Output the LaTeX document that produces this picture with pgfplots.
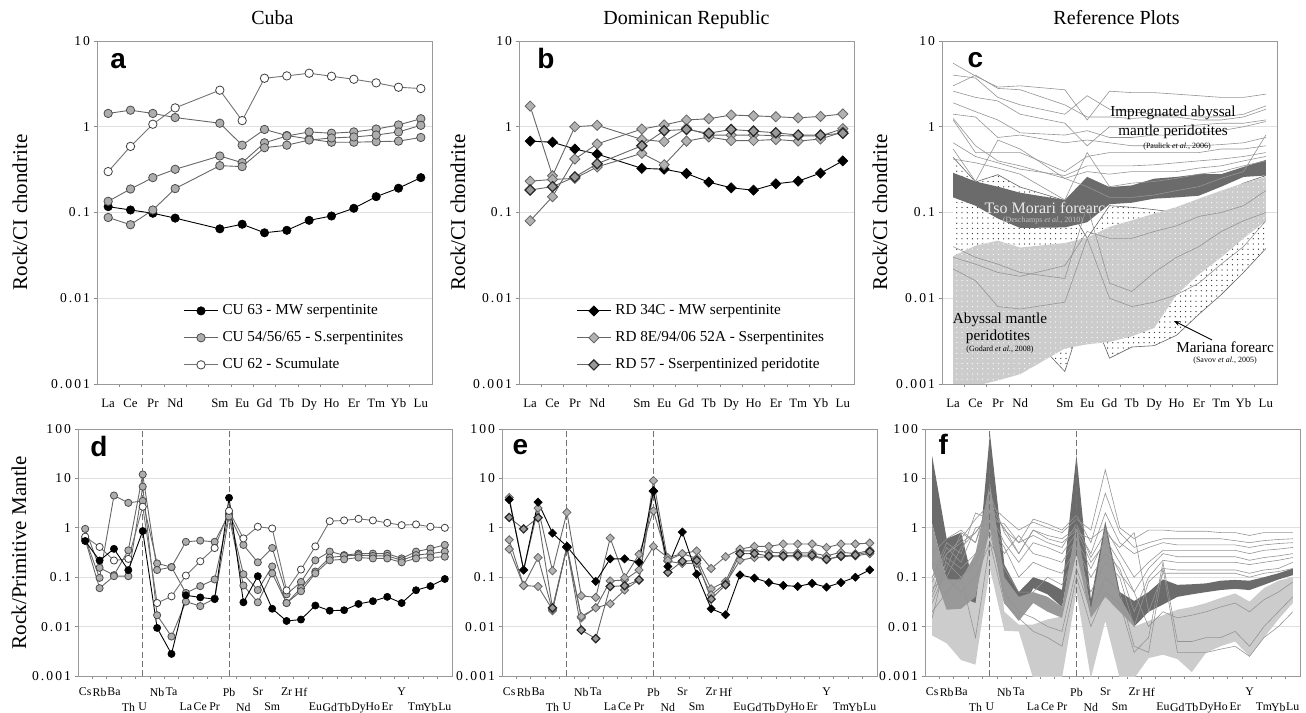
\documentclass[border=0pt]{standalone}
\usepackage{fontspec}
\setmainfont{Liberation Serif}
\setsansfont{Liberation Sans}
\newfontfamily\tickfont{Liberation Serif}[LetterSpace=15]
\usepackage{pgfplots}
\usepackage{pgfplotstable}
\pgfplotsset{compat=1.18}
\usetikzlibrary{patterns,arrows.meta}

\pgfdeclarepatternformonly{smalldots}{\pgfqpoint{-0.5pt}{-0.5pt}}{\pgfqpoint{0.5pt}{0.5pt}}{\pgfqpoint{2.6pt}{2.6pt}}{\pgfpathcircle{\pgfqpoint{0pt}{0pt}}{0.32pt}\pgfusepath{fill}}

% ---------------- data ----------------
\pgfplotstableread{
x cu63 g1 g2 g3 cu62
1 0.117 1.43 0.135 0.0875 0.30
2 0.107 1.56 0.188 0.072 0.59
3 0.098 1.43 0.255 0.107 1.07
4 0.086 1.28 0.319 0.19 1.66
6 0.0645 1.10 0.456 0.352 2.67
7 0.073 0.61 0.381 0.343 1.18
8 0.058 0.93 0.65 0.57 3.68
9 0.062 0.79 0.78 0.61 3.92
10 0.081 0.72 0.87 0.70 4.21
11 0.091 0.66 0.84 0.74 3.88
12 0.112 0.66 0.87 0.76 3.58
13 0.153 0.67 0.94 0.80 3.25
14 0.192 0.68 1.05 0.87 2.89
15 0.255 0.75 1.24 1.04 2.79
}\tabA

\pgfplotstableread{
x blk g1 g2 g3 r57
1 0.68 1.74 0.08 0.232 0.183
2 0.66 0.268 0.153 0.243 0.20
3 0.55 1.0 0.42 0.25 0.26
4 0.48 1.04 0.63 0.34 0.37
6 0.327 0.71 0.94 0.49 0.60
7 0.32 0.67 1.05 0.36 0.90
8 0.285 0.96 1.2 0.68 0.93
9 0.226 0.80 1.24 0.76 0.84
10 0.194 0.80 1.37 0.69 0.93
11 0.182 0.80 1.34 0.69 0.89
12 0.216 0.79 1.31 0.71 0.85
13 0.232 0.78 1.27 0.68 0.80
14 0.288 0.78 1.32 0.72 0.80
15 0.40 0.95 1.41 0.87 0.84
}\tabB

% panel c: Mariana forearc boundaries
\pgfplotstableread{
x mrUp mrLo
1 0.44 0.0093
2 0.227 0.016
3 0.276 0.008
4 0.198 0.005
6 0.138 0.0014
7 0.05 0.009
8 0.12 0.002
9 0.115 0.0027
10 0.108 0.0028
11 0.10 0.0037
12 0.12 0.0065
13 0.16 0.011
14 0.22 0.02
15 0.27 0.038
}\tabC

% panel c polygons (upper edge left to right, then lower edge right to left)
\pgfplotstableread{
x y
1 0.44
2 0.227
3 0.276
4 0.198
6 0.138
7 0.05
8 0.12
9 0.115
10 0.108
11 0.10
12 0.12
13 0.16
14 0.22
15 0.27
15 0.038
14 0.02
13 0.011
12 0.0065
11 0.0037
10 0.0028
9 0.0027
8 0.002
7 0.009
6 0.0014
4 0.005
3 0.008
2 0.016
1 0.0093
}\polyCmr

\pgfplotstableread{
x y
1 0.031
2 0.041
3 0.047
4 0.039
6 0.044
7 0.051
8 0.068
9 0.081
10 0.097
11 0.116
12 0.145
13 0.18
14 0.22
15 0.26
15 0.08
14 0.05
13 0.03
12 0.019
11 0.011
10 0.0045
9 0.0036
8 0.0031
7 0.0029
6 0.0026
4 0.0013
3 0.0011
2 0.00095
1 0.00095
}\polyClg

\pgfplotstableread{
x y
1 0.29
2 0.23
3 0.2
4 0.17
6 0.14
7 0.26
8 0.198
9 0.207
10 0.248
11 0.26
12 0.28
13 0.28
14 0.34
15 0.41
15 0.27
14 0.26
13 0.2
12 0.157
11 0.15
10 0.145
9 0.13
8 0.125
7 0.077
6 0.067
4 0.066
3 0.085
2 0.12
1 0.15
}\polyCdk

\pgfplotstableread{
x c1 c2 c3 c4 c5 c6 c7 c8 c9 c10 c11 c12 c13 c14
1 5.5 4.0 3.0 2.6 1.9 1.4 1.2 0.65 0.55 0.42 1.25 0.022 0.04 0.03
2 3.9 3.7 4.0 2.2 1.5 1.3 0.5 0.45 0.23 0.38 0.6 0.016 0.03 0.025
3 2.9 2.2 2.8 2.0 1.2 0.75 0.5 0.38 0.7 0.33 0.4 0.008 0.025 0.02
4 3.0 1.8 2.7 1.4 0.85 0.8 0.5 0.32 0.55 0.28 0.35 0.0075 0.02 0.018
6 2.7 1.4 1.8 1.1 0.8 0.65 0.3 0.27 0.25 0.14 0.25 0.009 0.017 0.024
7 1.2 2.3 1.3 0.6 0.9 0.7 0.45 0.35 0.3 0.5 0.2 0.05 0.12 0.06
8 2.6 1.6 1.3 1.0 0.75 0.65 0.5 0.35 0.28 0.2 0.15 0.01 0.015 0.05
9 2.5 1.5 1.25 1.0 0.75 0.6 0.5 0.35 0.3 0.22 0.15 0.008 0.012 0.05
10 2.5 1.4 1.3 1.0 0.8 0.6 0.5 0.36 0.3 0.23 0.16 0.009 0.02 0.06
11 2.4 1.4 1.3 1.0 0.8 0.6 0.5 0.38 0.3 0.25 0.18 0.011 0.03 0.07
12 2.3 1.3 1.2 1.05 0.85 0.6 0.5 0.4 0.33 0.28 0.2 0.015 0.04 0.09
13 2.2 1.3 1.2 1.1 0.9 0.62 0.55 0.42 0.35 0.3 0.25 0.025 0.06 0.1
14 2.2 1.4 1.3 1.1 1.0 0.65 0.55 0.45 0.4 0.35 0.3 0.04 0.08 0.12
15 2.4 1.75 1.6 1.2 1.15 0.75 0.6 0.5 0.45 0.4 0.8 0.08 0.1 0.18
}\tabCl

\pgfplotstableread{
x blk wht g1 g2 g3
1 0.54 0.66 0.6 0.95 0.58
2 0.218 0.41 0.097 0.155 0.06
3 0.375 0.218 4.5 0.11 0.105
4 0.139 0.235 3.2 0.35 0.105
5 0.86 2.67 3.5 12 6.8
6 0.0094 0.030 0.19 0.14 0.017
7 0.0028 0.041 0.16 0.16 0.0063
8 0.043 0.108 0.52 0.048 0.032
9 0.039 0.21 0.55 0.066 0.026
10 0.036 0.39 0.52 0.09 0.037
11 4.05 2.2 1.9 1.9 1.7
12 0.031 0.61 0.45 0.115 0.068
13 0.105 1.05 0.2 0.055 0.031
14 0.023 0.97 0.39 0.165 0.12
15 0.013 0.054 0.045 0.03 0.03
16 0.0139 0.143 0.08 0.06 0.052
17 0.0267 0.42 0.22 0.13 0.12
18 0.021 1.36 0.33 0.25 0.22
19 0.0215 1.41 0.28 0.27 0.23
20 0.0288 1.52 0.3 0.28 0.25
21 0.0327 1.41 0.3 0.27 0.24
22 0.040 1.26 0.3 0.27 0.24
23 0.030 1.13 0.24 0.22 0.2
24 0.0545 1.17 0.33 0.28 0.24
25 0.066 1.05 0.38 0.3 0.25
26 0.092 1.0 0.45 0.33 0.26
}\tabD

\pgfplotstableread{
x gA gB gC gD
1 4.1 1.62 0.57 0.37
2 0.14 0.95 0.068 0.068
3 2.5 1.6 0.25 0.065
4 0.135 0.024 0.021 0.022
5 2.05 0.4 0.4 0.42
6 0.042 0.0085 0.015 0.016
7 0.039 0.0057 0.024 0.024
8 0.62 0.065 0.084 0.029
9 0.098 0.067 0.088 0.055
10 0.29 0.088 0.14 0.088
11 2.2 5.5 0.42 9
12 0.22 0.125 0.25 0.21
13 0.3 0.21 0.3 0.19
14 0.34 0.22 0.24 0.19
15 0.15 0.036 0.058 0.044
16 0.26 0.07 0.082 0.075
17 0.37 0.3 0.34 0.22
18 0.42 0.3 0.34 0.25
19 0.42 0.27 0.32 0.26
20 0.47 0.27 0.31 0.26
21 0.47 0.28 0.31 0.26
22 0.47 0.28 0.31 0.26
23 0.4 0.23 0.27 0.23
24 0.47 0.27 0.32 0.26
25 0.47 0.28 0.3 0.27
26 0.49 0.33 0.35 0.3
}\tabE

% panel f polygons
\pgfplotstableread{
x y
1 0.105
2 0.05
3 0.03
4 0.1
5 9
6 0.02
7 0.011
8 0.011
9 0.014
10 0.016
11 1.3
12 0.024
13 0.1
14 0.02
15 0.01
16 0.013
17 0.017
18 0.022
19 0.025
20 0.03
21 0.038
22 0.047
23 0.032
24 0.06
25 0.085
26 0.1
26 0.03
25 0.014
24 0.006
23 0.0025
22 0.005
21 0.004
20 0.003
19 0.0012
18 0.0022
17 0.0027
16 0.0023
15 0.0009
14 0.0009
13 0.013
12 0.0009
11 0.05
10 0.0009
9 0.0009
8 0.0009
7 0.008
6 0.0082
5 0.15
4 0.0017
3 0.0021
2 0.0046
1 0.0066
}\polyFlg

\pgfplotstableread{
x y
1 28
2 0.6
3 0.8
4 0.05
5 83
6 0.18
7 0.05
8 0.1
9 0.08
10 0.055
11 30
12 0.035
13 1.35
14 0.05
15 0.033
16 0.05
17 0.09
18 0.07
19 0.072
20 0.075
21 0.085
22 0.088
23 0.085
24 0.1
25 0.12
26 0.15
26 0.11
25 0.09
24 0.07
23 0.055
22 0.058
21 0.055
20 0.05
19 0.045
18 0.04
17 0.028
16 0.02
15 0.01
14 0.03
13 0.1
12 0.022
11 1
10 0.025
9 0.045
8 0.06
7 0.015
6 0.05
5 5
4 0.03
3 0.04
2 0.09
1 1.2
}\polyFdk

\pgfplotstableread{
x y
1 1.2
2 0.09
3 0.09
4 0.3
5 8
6 0.1
7 0.04
8 0.05
9 0.04
10 0.025
11 1.2
12 0.022
13 1.0
14 0.04
15 0.012
15 0.01
14 0.02
13 0.04
12 0.015
11 0.3
10 0.015
9 0.02
8 0.03
7 0.013
6 0.03
5 1
4 0.04
3 0.023
2 0.022
1 0.15
}\polyFmd

\pgfplotstableread{
x f1 f2 f3 f4 f5 f6 f7 f8 f9 f10 f11
1 0.05 0.1 0.03 0.2 0.015 0.08 0.02 0.3 0.04 0.06 0.1
2 0.3 0.5 0.15 0.1 0.25 0.4 0.05 0.6 0.2 0.1 0.3
3 0.6 0.3 0.8 0.4 0.15 0.2 0.1 0.9 0.1 0.05 0.5
4 1.5 2 0.5 0.8 0.3 1 0.006 0.5 0.2 0.1 0.8
5 3 1.5 5 2 1 1.2 0.5 3 0.8 0.5 2
6 1.6 1.2 0.8 0.5 0.3 0.4 0.15 0.9 0.05 0.03 1
7 0.9 0.5 0.3 0.2 0.7 0.1 0.05 0.5 0.02 0.015 0.3
8 1.3 1.5 0.9 0.5 0.3 0.2 0.05 0.7 0.015 0.008 0.9
9 1.0 1.2 0.7 0.4 0.25 0.15 0.1 0.5 0.01 0.006 0.6
10 0.8 0.9 0.6 0.3 0.2 0.12 0.07 0.4 0.008 0.004 0.5
11 1.5 1.8 1.0 0.8 0.6 0.4 0.3 1.2 0.15 0.1 0.9
12 0.9 0.5 0.3 0.6 0.15 0.1 0.05 0.25 0.02 0.01 0.2
13 15 5 2 1 0.6 0.3 0.2 0.8 0.1 0.05 0.5
14 1.0 0.8 0.5 0.3 0.2 0.15 0.1 0.4 0.05 0.03 0.12
15 0.6 0.4 0.3 0.1 0.05 0.02 0.01 0.8 0.004 0.003 0.05
16 0.9 0.5 0.4 0.2 0.15 0.1 0.08 0.02 0.003 0.006 0.01
17 0.9 0.6 0.5 0.35 0.3 0.22 0.15 0.12 0.15 0.2 0.02
18 0.85 0.6 0.45 0.35 0.26 0.2 0.14 0.12 0.003 0.005 0.015
19 0.85 0.6 0.45 0.35 0.26 0.2 0.14 0.12 0.003 0.005 0.017
20 0.85 0.6 0.45 0.35 0.26 0.2 0.14 0.12 0.003 0.006 0.02
21 0.8 0.6 0.45 0.35 0.26 0.2 0.14 0.12 0.0035 0.006 0.025
22 0.8 0.55 0.45 0.35 0.26 0.2 0.14 0.12 0.004 0.008 0.03
23 0.7 0.5 0.4 0.3 0.22 0.18 0.12 0.1 0.0025 0.004 0.02
24 0.8 0.55 0.45 0.35 0.25 0.2 0.14 0.12 0.006 0.01 0.035
25 0.8 0.58 0.48 0.37 0.27 0.22 0.15 0.13 0.01 0.02 0.05
26 0.8 0.6 0.5 0.4 0.3 0.25 0.2 0.15 0.02 0.04 0.08
}\tabFl

% ---------------- styles ----------------
\tikzset{
 mblk/.style={black, line width=0.45pt, mark=*, mark options={fill=black, draw=black, line width=0.3pt}},
 mgry/.style={black!60, line width=0.45pt, mark=*, mark options={fill=black!32, draw=black!70, line width=0.4pt}},
 mwht/.style={black!55, line width=0.45pt, mark=*, mark options={fill=white, draw=black!75, line width=0.4pt}},
 dblk/.style={black, line width=0.45pt, mark=square*, mark options={rotate=45, fill=black, draw=black, line width=0.3pt}},
 dgry/.style={black!60, line width=0.45pt, mark=square*, mark options={rotate=45, fill=black!30, draw=black!60, line width=0.4pt}},
 ddk/.style={black!60, line width=0.45pt, mark=square*, mark options={rotate=45, fill=black!40, draw=black!85, line width=0.6pt}},
 thinln/.style={black!42, line width=0.3pt},
 dashv/.style={black!55, line width=0.5pt, dash pattern=on 3pt off 1.6pt},
}
\pgfplotsset{every axis/.append style={scale only axis,
    axis line style={black!40}, tick style={black!45, line width=0.4pt},
    tick align=outside, major tick length=0pt, minor tick length=1.7pt,
    tick pos=left,
    ymajorgrids, major grid style={black!12, line width=0.4pt},
    yticklabel style={font=\tickfont\fontsize{6.8}{8}\selectfont},
  }}
\newcommand{\plab}[1]{\sffamily\bfseries\fontsize{14}{14}\selectfont #1}

\begin{document}
\begin{tikzpicture}
\path[use as bounding box] (0,0) rectangle (653pt,356pt);

% ================= a =================
\begin{axis}[ymode=log, at={(48.5pt,164pt)}, anchor=south west,
  width=167.5pt, height=171.5pt, ymin=0.001, ymax=10,
  ytick={0.001,0.01,0.1,1,10}, yticklabels={0.001,0.01,0.1,1,10},
  minor ytick={0.001,0.01,0.1,1,10},
  xmin=0.5, xmax=15.5, xtick={1,2,3,4,6,7,8,9,10,11,12,13,14,15},
  xticklabels={La,Ce,Pr,Nd,Sm,Eu,Gd,Tb,Dy,Ho,Er,Tm,Yb,Lu},
  xticklabel style={font=\fontsize{6.4}{8}\selectfont, yshift=-4pt},
  minor xtick={1.5,2.5,...,14.5},
  title={Cuba}, title style={font=\fontsize{10}{12}\selectfont, at={(0.5,1)}, anchor=base, yshift=2.5pt, xshift=4pt},
  ylabel={Rock/CI chondrite},
  ylabel style={font=\fontsize{10.5}{12}\selectfont, anchor=center, at={(axis description cs:-0.23,0.5)}},
  legend style={draw=none, fill=none, at={(0.257,0.245)}, anchor=north west, font=\fontsize{7.6}{9}\selectfont, row sep=2.9pt, inner sep=0pt},
  legend cell align=left]
\addplot[mblk, mark size=2.1pt] table[x=x,y=cu63]{\tabA};
\addlegendentry{CU 63 - MW serpentinite}
\addplot[mgry, mark size=2.1pt] table[x=x,y=g1]{\tabA};
\addlegendentry{CU 54/56/65 - S.serpentinites}
\addplot[mgry, mark size=2.1pt, forget plot] table[x=x,y=g2]{\tabA};
\addplot[mgry, mark size=2.1pt, forget plot] table[x=x,y=g3]{\tabA};
\addplot[mwht, mark size=2.1pt] table[x=x,y=cu62]{\tabA};
\addlegendentry{CU 62 - Scumulate}
\node[anchor=base west, inner sep=0] at (rel axis cs:0.039,0.921) {\plab{a}};
\end{axis}

% ================= b =================
\begin{axis}[ymode=log, at={(259.5pt,164pt)}, anchor=south west,
  width=167.5pt, height=171.5pt, ymin=0.001, ymax=10,
  ytick={0.001,0.01,0.1,1,10}, yticklabels={0.001,0.01,0.1,1,10},
  minor ytick={0.001,0.01,0.1,1,10},
  xmin=0.5, xmax=15.5, xtick={1,2,3,4,6,7,8,9,10,11,12,13,14,15},
  xticklabels={La,Ce,Pr,Nd,Sm,Eu,Gd,Tb,Dy,Ho,Er,Tm,Yb,Lu},
  xticklabel style={font=\fontsize{6.4}{8}\selectfont, yshift=-4pt},
  minor xtick={1.5,2.5,...,14.5},
  title={Dominican Republic}, title style={font=\fontsize{10}{12}\selectfont, at={(0.5,1)}, anchor=base, yshift=2.5pt},
  ylabel={Rock/CI chondrite},
  ylabel style={font=\fontsize{10.5}{12}\selectfont, anchor=center, at={(axis description cs:-0.182,0.5)}},
  legend style={draw=none, fill=none, at={(0.17,0.245)}, anchor=north west, font=\fontsize{7.6}{9}\selectfont, row sep=2.9pt, inner sep=0pt},
  legend cell align=left]
\addplot[dblk, mark size=1.8pt] table[x=x,y=blk]{\tabB};
\addlegendentry{RD 34C - MW serpentinite}
\addplot[dgry, mark size=1.8pt] table[x=x,y=g1]{\tabB};
\addlegendentry{RD 8E/94/06 52A - Sserpentinites}
\addplot[dgry, mark size=1.8pt, forget plot] table[x=x,y=g2]{\tabB};
\addplot[dgry, mark size=1.8pt, forget plot] table[x=x,y=g3]{\tabB};
\addplot[ddk, mark size=1.8pt] table[x=x,y=r57]{\tabB};
\addlegendentry{RD 57 - Sserpentinized peridotite}
\node[anchor=base west, inner sep=0] at (rel axis cs:0.054,0.921) {\plab{b}};
\end{axis}

% ================= c =================
\begin{axis}[ymode=log, at={(471pt,164pt)}, anchor=south west,
  width=167.5pt, height=171.5pt, ymin=0.001, ymax=10,
  ytick={0.001,0.01,0.1,1,10}, yticklabels={0.001,0.01,0.1,1,10},
  minor ytick={0.001,0.01,0.1,1,10},
  xmin=0.5, xmax=15.5, xtick={1,2,3,4,6,7,8,9,10,11,12,13,14,15},
  xticklabels={La,Ce,Pr,Nd,Sm,Eu,Gd,Tb,Dy,Ho,Er,Tm,Yb,Lu},
  xticklabel style={font=\fontsize{6.4}{8}\selectfont, yshift=-4pt},
  minor xtick={1.5,2.5,...,14.5},
  title={Reference Plots}, title style={font=\fontsize{10}{12}\selectfont, at={(0.5,1)}, anchor=base, yshift=2.5pt, xshift=3.5pt},
  ylabel={Rock/CI chondrite},
  ylabel style={font=\fontsize{10.5}{12}\selectfont, anchor=center, at={(axis description cs:-0.185,0.5)}}]
\addplot[fill=white, draw=none, forget plot] table[x=x,y=y]{\polyCmr};
\addplot[pattern=smalldots, pattern color=black!85, draw=none, forget plot] table[x=x,y=y]{\polyCmr};
\addplot[draw=black!60, line width=0.3pt, forget plot] table[x=x,y=mrUp]{\tabC};
\addplot[draw=black!60, line width=0.3pt, forget plot] table[x=x,y=mrLo]{\tabC};
\addplot[fill=black!20, draw=none, forget plot] table[x=x,y=y]{\polyClg};
\addplot[pattern=smalldots, pattern color=white, draw=none, forget plot] table[x=x,y=y]{\polyClg};
\addplot[fill=black!58, draw=none, forget plot] table[x=x,y=y]{\polyCdk};
\pgfplotsinvokeforeach{1,...,14}{\addplot[thinln, forget plot] table[x=x,y=c#1]{\tabCl};}
\node[anchor=base west, inner sep=0] at (rel axis cs:0.075,0.924) {\plab{c}};
\end{axis}

% ================= d =================
\begin{axis}[ymode=log, at={(39pt,18pt)}, anchor=south west,
  width=187pt, height=123.5pt, ymin=0.001, ymax=100,
  ytick={0.001,0.01,0.1,1,10,100}, yticklabels={0.001,0.01,0.1,1,10,100},
  minor ytick={0.001,0.01,0.1,1,10,100},
  xmin=0.5, xmax=26.5,
  xtick={1,2,3,6,7,11,13,15,16,23}, xticklabels={Cs,Rb,Ba,Nb,Ta,Pb,Sr,Zr,Hf,Y},
  extra x ticks={4,5,8,9,10,12,14,17,18,19,20,21,22,24,25,26},
  extra x tick labels={Th,U,La,Ce,Pr,Nd,Sm,Eu,Gd,Tb,Dy,Ho,Er,Tm,Yb,Lu},
  extra x tick style={xticklabel style={yshift=-7.5pt}},
  minor xtick={1.5,2.5,...,25.5},
  xticklabel style={inner xsep=0pt, font=\fontsize{5.9}{7}\selectfont, yshift=-2.5pt},
  ylabel={Rock/Primitive Mantle},
  ylabel style={font=\fontsize{10.5}{12}\selectfont, anchor=center, at={(axis description cs:-0.158,0.5)}}]
\addplot[dashv, forget plot] coordinates {(5,0.001) (5,100)};
\addplot[dashv, forget plot] coordinates {(11,0.001) (11,100)};
\addplot[mgry, mark size=1.8pt] table[x=x,y=g1]{\tabD};
\addplot[mgry, mark size=1.8pt] table[x=x,y=g2]{\tabD};
\addplot[mgry, mark size=1.8pt] table[x=x,y=g3]{\tabD};
\addplot[mwht, mark size=1.8pt] table[x=x,y=wht]{\tabD};
\addplot[mblk, mark size=1.8pt] table[x=x,y=blk]{\tabD};
\node[anchor=base west, inner sep=0] at (rel axis cs:0.032,0.887) {\plab{d}};
\end{axis}

% ================= e =================
\begin{axis}[ymode=log, at={(251pt,18pt)}, anchor=south west,
  width=187.5pt, height=123.5pt, ymin=0.001, ymax=100,
  ytick={0.001,0.01,0.1,1,10,100}, yticklabels={0.001,0.01,0.1,1,10,100},
  minor ytick={0.001,0.01,0.1,1,10,100},
  xmin=0.5, xmax=26.5,
  xtick={1,2,3,6,7,11,13,15,16,23}, xticklabels={Cs,Rb,Ba,Nb,Ta,Pb,Sr,Zr,Hf,Y},
  extra x ticks={4,5,8,9,10,12,14,17,18,19,20,21,22,24,25,26},
  extra x tick labels={Th,U,La,Ce,Pr,Nd,Sm,Eu,Gd,Tb,Dy,Ho,Er,Tm,Yb,Lu},
  extra x tick style={xticklabel style={yshift=-7.5pt}},
  minor xtick={1.5,2.5,...,25.5},
  xticklabel style={inner xsep=0pt, font=\fontsize{5.9}{7}\selectfont, yshift=-2.5pt}]
\addplot[dashv, forget plot] coordinates {(5,0.001) (5,100)};
\addplot[dashv, forget plot] coordinates {(11,0.001) (11,100)};
\addplot[dgry, mark size=1.45pt] table[x=x,y=gC]{\tabE};
\addplot[dgry, mark size=1.45pt] table[x=x,y=gD]{\tabE};
\addplot[dgry, mark size=1.45pt] table[x=x,y=gA]{\tabE};
\addplot[ddk, mark size=1.45pt] table[x=x,y=gB]{\tabE};
\addplot[dblk, mark size=1.45pt] coordinates {(1,3.7)(2,0.14)(3,3.3)(4,0.78)(5,0.42)(7,0.082)(8,0.235)(9,0.235)(10,0.2)(11,5.6)(12,0.165)(13,0.82)(14,0.115)(15,0.023)(16,0.0174)(17,0.111)(18,0.096)(19,0.078)(20,0.068)(21,0.065)(22,0.075)(23,0.063)(24,0.078)(25,0.1)(26,0.141)};
\node[anchor=base west, inner sep=0] at (rel axis cs:0.027,0.895) {\plab{e}};
\end{axis}

% ================= f =================
\begin{axis}[ymode=log, at={(462.5pt,18pt)}, anchor=south west,
  width=187.5pt, height=123.5pt, ymin=0.001, ymax=100,
  ytick={0.001,0.01,0.1,1,10,100}, yticklabels={0.001,0.01,0.1,1,10,100},
  minor ytick={0.001,0.01,0.1,1,10,100},
  xmin=0.5, xmax=26.5,
  xtick={1,2,3,6,7,11,13,15,16,23}, xticklabels={Cs,Rb,Ba,Nb,Ta,Pb,Sr,Zr,Hf,Y},
  extra x ticks={4,5,8,9,10,12,14,17,18,19,20,21,22,24,25,26},
  extra x tick labels={Th,U,La,Ce,Pr,Nd,Sm,Eu,Gd,Tb,Dy,Ho,Er,Tm,Yb,Lu},
  extra x tick style={xticklabel style={yshift=-7.5pt}},
  minor xtick={1.5,2.5,...,25.5},
  xticklabel style={inner xsep=0pt, font=\fontsize{5.9}{7}\selectfont, yshift=-2.5pt}]
\addplot[fill=black!20, draw=none, forget plot] table[x=x,y=y]{\polyFlg};
\addplot[fill=black!58, draw=none, forget plot] table[x=x,y=y]{\polyFdk};
\addplot[fill=black!40, draw=none, forget plot] table[x=x,y=y]{\polyFmd};
\pgfplotsinvokeforeach{1,...,11}{\addplot[thinln, forget plot] table[x=x,y=f#1]{\tabFl};}
\addplot[dashv, forget plot] coordinates {(5,0.001) (5,100)};
\addplot[dashv, forget plot] coordinates {(11,0.001) (11,100)};
\node[anchor=base west, inner sep=0] at (rel axis cs:0.035,0.895) {\plab{f}};
\end{axis}

% annotations of panel c
\node[font=\fontsize{7.6}{9}\selectfont] at (586.5pt,299.5pt) {Impregnated abyssal};
\node[font=\fontsize{7.6}{9}\selectfont] at (586.5pt,290pt) {mantle peridotites};
\node[font=\fontsize{4}{5}\selectfont] at (588.5pt,282.5pt) {(Paulick \textit{et al.}, 2006)};
\node[font=\fontsize{8}{9}\selectfont, text=black!8] at (522.5pt,252pt) {Tso Morari forearc};
\node[font=\fontsize{4}{5}\selectfont, text=black!25] at (521.5pt,245.5pt) {(Deschamps \textit{et al.}, 2010)};
\node[font=\fontsize{7.6}{9}\selectfont] at (500pt,196pt) {Abyssal mantle};
\node[font=\fontsize{7.6}{9}\selectfont] at (499pt,187.5pt) {peridotites};
\node[font=\fontsize{4}{5}\selectfont] at (500pt,181pt) {(Godard \textit{et al.}, 2008)};
\node[font=\fontsize{7.6}{9}\selectfont] at (612.5pt,182.5pt) {Mariana forearc};
\node[font=\fontsize{4}{5}\selectfont] at (612.5pt,175.5pt) {(Savov \textit{et al.}, 2005)};
\draw[-{Stealth[length=3pt,width=2.4pt]}, line width=0.45pt] (606pt,186pt) -- (587pt,195.5pt);
\end{tikzpicture}
\end{document}
